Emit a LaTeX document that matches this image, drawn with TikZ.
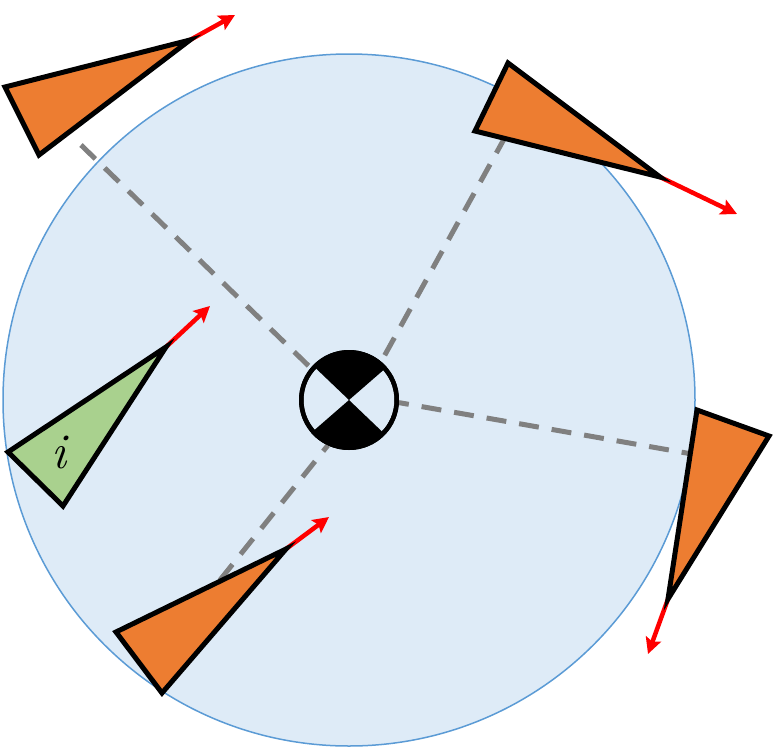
\documentclass[tikz,border=0pt]{standalone}
\usepackage{fontspec}
\usetikzlibrary{arrows.meta}
\definecolor{zoneFill}{HTML}{DEEBF7}
\definecolor{zoneLine}{HTML}{5B9BD5}
\definecolor{agentOrange}{HTML}{ED7D31}
\definecolor{agentGreen}{HTML}{A9D18E}

\begin{document}
\begin{tikzpicture}
[x=1pt,y=-1pt,%
  zoneDecorate/.style={shape=circle,draw=zoneLine,fill=zoneFill,line width=1.5pt,inner sep=0pt,minimum size=692pt},%
  hubDecorate/.style={shape=circle,draw,line width=4.5pt,inner sep=0pt,minimum size=95.5pt},%
  agentDecorate/.style={draw,line width=5pt,line join=miter,miter limit=20},%
  linkDecorate/.style={gray,line width=5pt,dash pattern=on 20pt off 13pt},%
  headingDecorate/.style={red,line width=4.5pt,-{Stealth[length=16pt,width=16pt,inset=3pt]}}]
\useasboundingbox (0,0) rectangle (774,747);
\node (zone) at (349,400) [zoneDecorate] {};
%% corners of the agents, tips of the headings, ends of the links
\foreach \nodename/\x/\y in {a1/5/87, a2/190/40, a3/39/155, aHead/235/15, aEnd/81/145,
  b1/508/63, b2/660/177, b3/475/131, bHead/737/214, bEnd/506/135.5,
  c1/769/436, c2/668/599, c3/697/410, cHead/648/654, cEnd/692/454,
  d1/116/632, d2/286/549, d3/162/693, dHead/329/517, dEnd/220/580,
  e1/8/452, e2/166/347, e3/63/506, eHead/210/306}
{
  \coordinate (\nodename) at (\x,\y);
}
\node (hub) at (349,400) [hubDecorate] {};
%% links
\path
\foreach \startnode/\endnode in {aEnd/hub.140, bEnd/hub.50, dEnd/hub.245}
{
  (\startnode) edge[linkDecorate] node {} (\endnode)
};
\path (hub.357) edge[linkDecorate,dash phase=10pt] node {} (cEnd);
%% agents
\foreach \name/\tint in {a/agentOrange, b/agentOrange, c/agentOrange, d/agentOrange, e/agentGreen}
{
  \draw[headingDecorate] (\name2) -- (\name Head);
  \draw[agentDecorate,fill=\tint] (\name1) -- (\name2) -- (\name3) -- cycle;
}
\node (label) at (59,452) {\fontsize{50}{50}\selectfont\itshape i};
%% hub quarters
\fill (hub.center) -- (hub.41) arc[start angle=41,end angle=139,radius=47.75pt] -- cycle;
\fill (hub.center) -- (hub.221) arc[start angle=221,end angle=319,radius=47.75pt] -- cycle;
\node at (hub) [hubDecorate] {};
\end{tikzpicture}
\end{document}
